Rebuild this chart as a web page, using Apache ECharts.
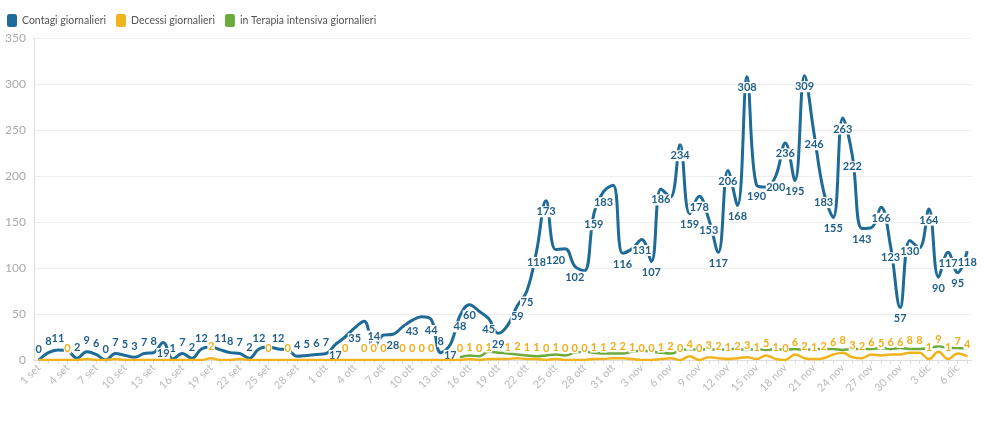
<!DOCTYPE html>
<html><head><meta charset="utf-8">
<script src="https://cdn.jsdelivr.net/npm/echarts@6/dist/echarts.min.js"></script>
<style>html,body{margin:0;padding:0;background:#fff}#c{width:994px;height:421px}</style>
</head><body><div id="c"></div>
<script>
const categories = [
"1 set","2 set","3 set","4 set","5 set","6 set","7 set","8 set","9 set","10 set",
"11 set","12 set","13 set","14 set","15 set","16 set","17 set","18 set","19 set","20 set",
"21 set","22 set","23 set","24 set","25 set","26 set","27 set","28 set","29 set","30 set",
"1 ott","2 ott","3 ott","4 ott","5 ott","6 ott","7 ott","8 ott","9 ott","10 ott",
"11 ott","12 ott","13 ott","14 ott","15 ott","16 ott","17 ott","18 ott","19 ott","20 ott",
"21 ott","22 ott","23 ott","24 ott","25 ott","26 ott","27 ott","28 ott","29 ott","30 ott","31 ott",
"1 nov","2 nov","3 nov","4 nov","5 nov","6 nov","7 nov","8 nov","9 nov","10 nov",
"11 nov","12 nov","13 nov","14 nov","15 nov","16 nov","17 nov","18 nov","19 nov","20 nov",
"21 nov","22 nov","23 nov","24 nov","25 nov","26 nov","27 nov","28 nov","29 nov","30 nov",
"1 dic","2 dic","3 dic","4 dic","5 dic","6 dic","7 dic"
];
const contagi = [
0,8,11,10,2,9,6,0,7,5,
3,7,8,19,1,7,2,12,14,11,
8,7,2,12,14,12,11,4,5,6,
7,17,25,35,42,14,27,28,36,43,
47,44,8,17,48,60,53,45,29,38,
59,75,118,173,120,121,102,97,159,183,190,
116,121,131,107,186,177,234,159,178,153,
117,206,168,308,190,188,200,236,195,309,
246,183,155,263,222,143,144,166,123,57,
130,122,164,90,117,95,118
];
const decessi = [
0,0,0,0,0,1,0,0,1,0,
0,0,0,0,0,0,0,0,2,0,
0,1,0,0,0,0,0,0,0,0,
0,0,0,0,0,0,0,0,0,0,
0,0,0,0,0,1,0,1,1,1,
2,1,1,0,1,0,0,0,1,1,2,
2,1,0,0,1,2,0,4,0,3,
2,1,2,3,1,5,1,0,6,2,
1,2,6,8,3,2,6,5,6,6,
8,8,1,9,1,7,4
];
const terapia = [
null,null,null,null,null,null,null,null,null,null,
null,null,null,null,null,null,null,null,null,null,
null,null,null,null,null,null,null,null,null,null,
null,null,null,null,null,null,null,null,null,null,
null,null,null,null,3,5,4,9,8,7,
6,5,4,5,6,5,8,9,8,7,7,
7,9,10,9,8,7,10,12,11,12,
11,12,12,11,12,11,12,11,12,11,
12,12,12,11,12,12,12,13,12,13,
12,12,13,15,13,13,12
];
const yTicks = {min: 0, max: 350, interval: 50};

const FONT = 'Lato';
const LABEL_SIZE = 11;
const BLUE_DIST = 5, ORANGE_DIST = 6;
const chart = echarts.init(document.getElementById('c'), null, {renderer: 'canvas'});
const labelBase = {
  fontFamily: FONT, fontWeight: 'bold', fontSize: LABEL_SIZE, lineHeight: LABEL_SIZE,
  backgroundColor: '#fff', padding: [0, 0.5]
};
const bluePos = v => (v < 15 ? 'top' : 'bottom');

function buildOption(blueShow, orangeShow) {
  return {
    animation: false,
    textStyle: {fontFamily: FONT},
    legend: {
      left: 2, top: 9, itemWidth: 10, itemHeight: 13, itemGap: 10, icon: 'roundRect',
      textStyle: {fontFamily: FONT, fontSize: 10.5, color: '#555'},
      data: ['Contagi giornalieri', 'Decessi giornalieri', 'in Terapia intensiva giornalieri']
    },
    grid: {left: 34, right: 22, top: 38, bottom: 61, containLabel: false},
    xAxis: {
      type: 'category', data: categories, boundaryGap: true,
      axisLine: {lineStyle: {color: '#ddd'}},
      axisTick: {show: true, interval: 0, alignWithLabel: true, length: 4, lineStyle: {color: '#ddd'}},
      axisLabel: {interval: 2, rotate: 45, color: '#bbb', fontSize: 11, fontFamily: FONT, margin: 6}
    },
    yAxis: {
      type: 'value', min: yTicks.min, max: yTicks.max, interval: yTicks.interval,
      axisLine: {show: true, lineStyle: {color: '#ddd'}},
      axisTick: {show: false},
      splitLine: {lineStyle: {color: '#eee'}},
      axisLabel: {color: '#aaa', fontSize: 12, fontFamily: FONT, margin: 8}
    },
    series: [
      {
        name: 'Contagi giornalieri', type: 'line', smooth: 0.4,
        symbol: 'circle', symbolSize: 1, showSymbol: true, showAllSymbol: true,
        color: '#1d6b96', lineStyle: {width: 3, color: '#1d6b96'}, z: 2,
        data: contagi.map((v, i) => ({value: v, label: {show: blueShow[i], position: bluePos(v)}})),
        label: Object.assign({}, labelBase, {color: '#1f5f87', distance: BLUE_DIST}),
        labelLayout: {hideOverlap: false}
      },
      {
        name: 'Decessi giornalieri', type: 'line', smooth: 0.4,
        symbol: 'circle', symbolSize: 1, showSymbol: true, showAllSymbol: true,
        color: '#f0b31c', lineStyle: {width: 2.5, color: '#f0b31c'}, z: 3,
        data: decessi.map((v, i) => ({value: v, label: {show: orangeShow[i]}})),
        label: Object.assign({}, labelBase, {color: '#eeae1a', position: 'top', distance: ORANGE_DIST}),
        labelLayout: {hideOverlap: false}
      },
      {
        name: 'in Terapia intensiva giornalieri', type: 'line', smooth: 0.4, symbol: 'none',
        color: '#6aab3c', lineStyle: {width: 2.5, color: '#6aab3c'}, z: 1,
        data: terapia, label: {show: false}
      }
    ]
  };
}

// first pass without labels, to obtain the scales
chart.setOption(buildOption(contagi.map(() => false), decessi.map(() => false)));

// hide overlapping labels greedily, in data order, first series first
const ctx = document.createElement('canvas').getContext('2d');
ctx.font = 'bold ' + LABEL_SIZE + 'px ' + FONT;
const shown = [];
function tryPlace(i, v, pos, dist) {
  const p = chart.convertToPixel({xAxisIndex: 0, yAxisIndex: 0}, [i, v]);
  const w = Math.max(ctx.measureText(String(v)).width - 1.5, 3);
  const h = LABEL_SIZE;
  const cy = pos === 'top' ? p[1] - dist - h / 2 : p[1] + dist + h / 2;
  const r = {x0: p[0] - w / 2, x1: p[0] + w / 2, y0: cy - h / 2, y1: cy + h / 2};
  for (const s of shown) {
    if (r.x0 < s.x1 && r.x1 > s.x0 && r.y0 < s.y1 && r.y1 > s.y0) return false;
  }
  shown.push(r);
  return true;
}
const blueShow = contagi.map((v, i) => tryPlace(i, v, bluePos(v), BLUE_DIST));
const orangeShow = decessi.map((v, i) => tryPlace(i, v, 'top', ORANGE_DIST));
chart.setOption(buildOption(blueShow, orangeShow));
</script>
</body></html>
